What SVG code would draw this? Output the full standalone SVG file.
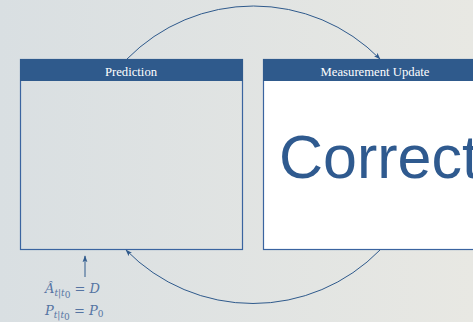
<svg xmlns="http://www.w3.org/2000/svg" width="473" height="322" viewBox="0 0 473 322">
  <defs>
    <linearGradient id="bg" x1="0" y1="0" x2="1" y2="0">
      <stop offset="0" stop-color="#d9dfe2"/>
      <stop offset="1" stop-color="#e8e8e3"/>
    </linearGradient>
    <marker id="arrow" viewBox="0 0 10 10" refX="9" refY="5" markerWidth="7" markerHeight="7" markerUnits="userSpaceOnUse" orient="auto">
      <path d="M0,1.5 L10,5 L0,8.5 L2.5,5 Z" fill="#2f5a8c"/>
    </marker>
  </defs>
  <style>
    .frame { fill: none; stroke: #3a64a0; stroke-width: 1.2; }
    .head { fill: #2f5a8c; }
    .title { font-family: "Liberation Serif", "Times New Roman", serif; font-size: 12.7px; fill: #ffffff; text-anchor: middle; }
    .edge { fill: none; stroke: #2f5a8c; stroke-width: 1; }
    .math { font-family: "DejaVu Serif", "Liberation Serif", serif; font-style: italic; fill: #5574a2; font-size: 13px; }
    .sub { font-size: 9px; }
    .up { font-style: normal; }
  </style>
  <rect width="473" height="322" fill="url(#bg)"/>

  <g id="prediction">
    <rect class="frame" x="20.5" y="59.5" width="222" height="190"/>
    <rect class="head" x="20" y="59" width="223" height="22"/>
    <text class="title" x="131" y="75.5">Prediction</text>
  </g>

  <g id="measurement-update">
    <rect x="263.5" y="59.5" width="220" height="190" fill="#ffffff" stroke="#3a64a0" stroke-width="1.2"/>
    <rect class="head" x="263" y="59" width="220" height="22"/>
    <text class="title" x="375" y="75.5">Measurement Update</text>
    <text x="279" y="178" font-family="Liberation Sans, Arial, sans-serif" font-size="61" fill="#2f5a8f">Correct</text>
  </g>

  <g id="connectors">
    <path class="edge" d="M127,59 A177.5,177.5 0 0 1 380,59" marker-end="url(#arrow)"/>
    <path class="edge" d="M380,250 A177.5,177.5 0 0 1 126,250" marker-end="url(#arrow)"/>
    <path class="edge" d="M85,277 L85,256" marker-end="url(#arrow)"/>
  </g>

  <g id="initial-state">
    <text class="math" x="45" y="293">Â<tspan class="sub" dy="3">t|t</tspan><tspan class="sub up" dy="1.5" font-size="7">0</tspan><tspan class="up" dy="-4.5"> = </tspan>D</text>
    <text class="math" x="45" y="315">P<tspan class="sub" dy="3">t|t</tspan><tspan class="sub up" dy="1.5" font-size="7">0</tspan><tspan class="up" dy="-4.5"> = </tspan>P<tspan class="up" font-size="9" dy="2">0</tspan></text>
  </g>
</svg>
